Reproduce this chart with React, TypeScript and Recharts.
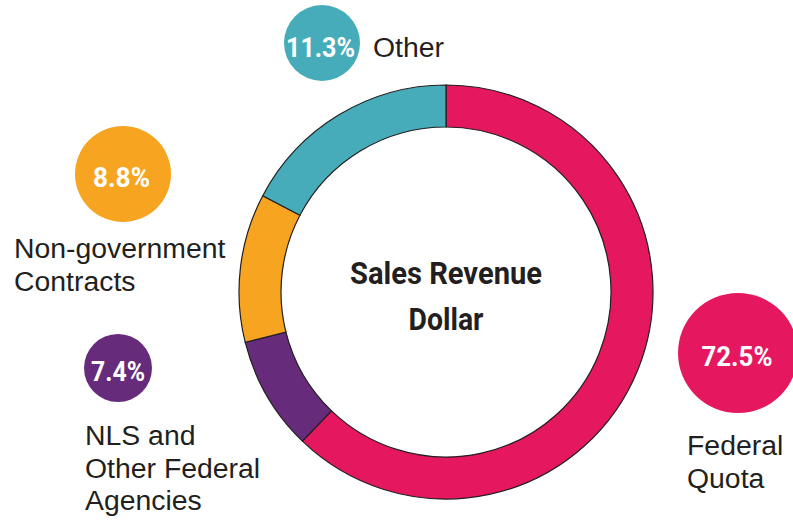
import { PieChart, Pie, Cell } from "recharts";

// segments in clockwise order, starting at 12 o'clock
const segments = ["Federal Quota", "NLS and Other Federal Agencies", "Non-government Contracts", "Other"];
// share of the ring as it is drawn
const arcShare = [62.2, 8.9, 11.6, 17.3];
// share as printed in the bubbles
const printedShare = ["72.5%", "7.4%", "8.8%", "11.3%"];
const labelLines = [["Federal", "Quota"], ["NLS and", "Other Federal", "Agencies"], ["Non-government", "Contracts"], ["Other"]];
const colors = ["#E5185F", "#662B7A", "#F7A520", "#46ACB9"];
const title = ["Sales Revenue", "Dollar"];

const INK = "#231F20";
const BODY_FONT = "'Liberation Sans', Arial, Helvetica, sans-serif";
const CONDENSED = "Roboto, 'Liberation Sans', Arial, sans-serif";

// bubble + caption layout, same order as segments
const layout = [
  { cx: 738, cy: 353, r: 60, tx: 737, ty: 365.5, tw: 71, lx: 687, ly: 455 },
  { cx: 118, cy: 368, r: 34, tx: 118, ty: 380.5, tw: 54, lx: 85, ly: 445 },
  { cx: 123, cy: 174, r: 48, tx: 121.5, ty: 187, tw: 57, lx: 14, ly: 258 },
  { cx: 322, cy: 43, r: 38, tx: 320.5, ty: 57, tw: 69, lx: 373, ly: 57 },
];

const data = segments.map((name, i) => ({ name, value: arcShare[i] }));

function Overlay() {
  return (
    <svg
      width={793}
      height={520}
      style={{ position: "absolute", left: 0, top: 0, pointerEvents: "none" }}
    >
      {layout.map((p, i) => (
        <g key={segments[i]}>
          <circle cx={p.cx} cy={p.cy} r={p.r} fill={colors[i]} />
          <text
            x={p.tx}
            y={p.ty}
            textAnchor="middle"
            fill="#fff"
            fontFamily={CONDENSED}
            fontWeight={700}
            fontSize={28.5}
            textLength={p.tw}
            lengthAdjust="spacingAndGlyphs"
          >
            {printedShare[i]}
          </text>
          {labelLines[i].map((line, j) => (
            <text
              key={line}
              x={p.lx}
              y={p.ly + j * 32.5}
              fill={INK}
              fontFamily={BODY_FONT}
              fontSize={28.4}
            >
              {line}
            </text>
          ))}
        </g>
      ))}
      {title.map((line, j) => (
        <text
          key={line}
          x={446}
          y={283.5 + j * 46}
          textAnchor="middle"
          fill={INK}
          fontFamily={CONDENSED}
          fontWeight={700}
          fontSize={32}
          textLength={j === 0 ? 192 : 75}
          lengthAdjust="spacingAndGlyphs"
        >
          {line}
        </text>
      ))}
    </svg>
  );
}

export default function App() {
  return (
    <div
      style={{
        position: "absolute",
        left: 0,
        top: 0,
        width: 793,
        height: 520,
        background: "#fff",
        overflow: "hidden",
      }}
    >
      <PieChart width={793} height={520} margin={{ top: 0, right: 0, bottom: 0, left: 0 }}>
        <Pie
          data={data}
          dataKey="value"
          nameKey="name"
          cx={446}
          cy={292}
          innerRadius={165}
          outerRadius={207}
          startAngle={90}
          endAngle={-270}
          stroke={INK}
          strokeWidth={1.2}
          isAnimationActive={false}
        >
          {data.map((d, i) => (
            <Cell key={d.name} fill={colors[i]} />
          ))}
        </Pie>
      </PieChart>
      <Overlay />
    </div>
  );
}
